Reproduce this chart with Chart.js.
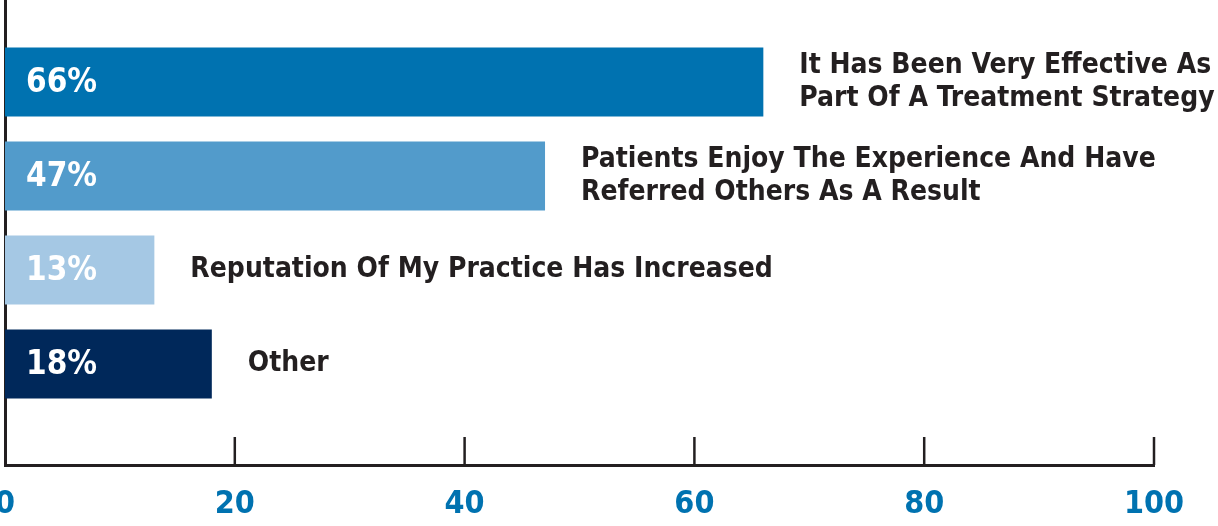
<!DOCTYPE html>
<html lang="en">
  <head>
    <meta charset="UTF-8" />
    <title>Treatment Results</title>
    <script src="https://cdn.jsdelivr.net/npm/chart.js@4.4.1/dist/chart.umd.min.js"></script>
    <style>
      html, body { margin: 0; padding: 0; background: #fff; }
      .wrap { width: 1218px; height: 526px; }
    </style>
  </head>
  <body>
    <div class="wrap"><canvas id="resultChart"></canvas></div>

    <script>
      const categories = [
        ["It Has Been Very Effective As", "Part Of A Treatment Strategy"],
        ["Patients Enjoy The Experience And Have", "Referred Others As A Result"],
        ["Reputation Of My Practice Has Increased"],
        ["Other"],
      ];
      const values = [66, 47, 13, 18];
      const valueLabels = ["66%", "47%", "13%", "18%"];
      const barColors = ["#0072b0", "#529bcb", "#a5c8e4", "#00285a"];
      const xTicks = [0, 20, 40, 60, 80, 100];

      const FONT = '"DejaVu Sans Condensed", "Liberation Sans Narrow", "DejaVu Sans", sans-serif';
      const INK = "#231f20";

      // small tick marks pointing up from the bottom axis
      const upTicks = {
        id: "upTicks",
        afterDraw(chart) {
          const ctx = chart.ctx;
          const x = chart.scales.x;
          const bottom = chart.chartArea.bottom;
          ctx.save();
          ctx.strokeStyle = INK;
          ctx.lineWidth = 2.5;
          xTicks.forEach((t) => {
            if (t === 0) return;
            const px = x.getPixelForValue(t);
            ctx.beginPath();
            ctx.moveTo(px, bottom - 28);
            ctx.lineTo(px, bottom);
            ctx.stroke();
          });
          ctx.restore();
        },
      };

      // percent inside each bar, category text after it
      const barText = {
        id: "barText",
        afterDatasetsDraw(chart) {
          const ctx = chart.ctx;
          const meta = chart.getDatasetMeta(0);
          const left = chart.chartArea.left;
          ctx.save();
          ctx.textBaseline = "middle";
          ctx.textAlign = "left";
          meta.data.forEach((bar, i) => {
            ctx.fillStyle = "#ffffff";
            ctx.font = "bold 33px " + FONT;
            ctx.fillText(valueLabels[i], left + 21, bar.y + 1);

            const lines = categories[i];
            const lh = 33;
            const y0 = bar.y - ((lines.length - 1) * lh) / 2;
            ctx.fillStyle = INK;
            ctx.font = "bold 28px " + FONT;
            lines.forEach((line, j) => {
              ctx.fillText(line, bar.x + 36, y0 + j * lh);
            });
          });
          ctx.restore();
        },
      };

      const ctx = document.getElementById("resultChart").getContext("2d");
      new Chart(ctx, {
        type: "bar",
        data: {
          datasets: [
            {
              data: values.map((v, i) => ({ x: v, y: i })),
              backgroundColor: barColors,
              borderWidth: 0,
              categoryPercentage: 1,
              barPercentage: 0.734,
            },
          ],
        },
        options: {
          indexAxis: "y",
          responsive: true,
          maintainAspectRatio: false,
          animation: false,
          layout: { padding: { left: 5, right: 64, top: 0, bottom: 0 } },
          plugins: {
            legend: { display: false },
            tooltip: { enabled: false },
          },
          scales: {
            x: {
              type: "linear",
              min: 0,
              max: 100,
              afterBuildTicks: (scale) => {
                scale.ticks = xTicks.map((v) => ({ value: v }));
              },
              afterFit: (scale) => {
                scale.paddingLeft = 0;
                scale.paddingRight = 0;
                scale.height = 61;
              },
              grid: { display: false, drawTicks: false },
              border: { display: true, color: INK, width: 3 },
              ticks: {
                color: "#0072b0",
                font: { family: FONT, size: 32, weight: "bold" },
                padding: 20,
                maxRotation: 0,
              },
            },
            y: {
              type: "linear",
              reverse: true,
              offset: false,
              min: -0.872,
              max: 4.074,
              afterBuildTicks: (scale) => {
                scale.ticks = categories.map((c, i) => ({ value: i }));
              },
              grid: { display: false, drawTicks: false, offset: false },
              border: { display: true, color: INK, width: 3 },
              ticks: { display: false },
            },
          },
        },
        plugins: [upTicks, barText],
      });
    </script>
  </body>
</html>
